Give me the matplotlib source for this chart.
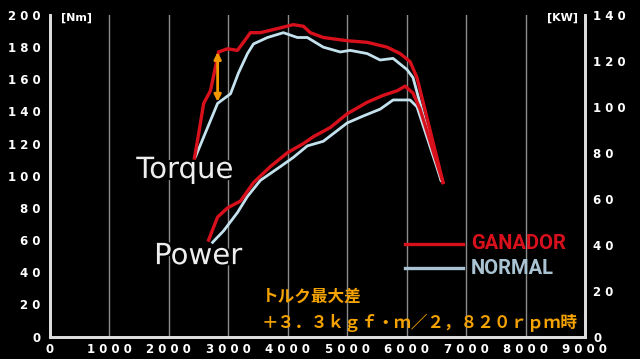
import matplotlib.pyplot as plt
import matplotlib.patheffects as pe

# Torque (Nm) vs rpm
tq_rpm_g = [2430, 2500, 2585, 2700, 2785, 2836, 2987, 3154, 3372, 3540, 3876, 4094,
            4262, 4379, 4597, 5000, 5336, 5671, 5889, 6057, 6174, 6611]
tq_g = [111, 126, 145, 153, 168, 177, 179, 178, 189, 189, 192, 194,
        193, 189, 186, 184, 183, 180, 176, 171, 161, 96]
tq_rpm_n = [2450, 2651, 2819, 3037, 3171, 3322, 3423, 3658, 3926, 4161, 4329, 4597,
            4883, 5050, 5336, 5554, 5772, 6007, 6107, 6580]
tq_n = [112, 130, 145, 151, 164, 176, 182, 186, 189, 186, 186, 180,
        177, 178, 176, 172, 173, 166, 161, 97]

# Power (kW) vs rpm
pw_rpm_g = [2668, 2819, 2987, 3205, 3423, 3708, 3993, 4262, 4430, 4715, 5000, 5336,
            5604, 5839, 5973, 6107, 6225, 6611]
pw_g = [42, 52, 56, 59, 67, 74, 80, 84, 87, 91, 97, 102,
        105, 107, 109, 106, 99, 67]
pw_rpm_n = [2735, 2920, 3154, 3322, 3540, 3876, 4094, 4329, 4597, 5000, 5268, 5554,
            5772, 6057, 6174, 6580]
pw_n = [41, 46, 54, 61, 68, 74, 78, 83, 85, 93, 96, 99,
        103, 103, 100, 68]

arrow_rpm = 2820
arrow_low, arrow_high = 146, 177

rpm_ticks = list(range(0, 9001, 1000))
nm_ticks = list(range(0, 201, 20))
kw_ticks = list(range(0, 141, 20))

RED = '#d8101c'
BLUE = '#c4e2ee'
AXC = '#dddddd'

def spaced(v):
    return ' '.join(str(v))

fig = plt.figure(figsize=(6.4, 3.59), dpi=100, facecolor='black')
ax = fig.add_axes([50 / 640, 1 - 336.5 / 359, 535 / 640, 321.5 / 359])
ax.set_facecolor('black')
ax2 = ax.twinx()

ax.set_xlim(0, 9000)
ax.set_ylim(0, 200)
ax2.set_ylim(0, 140)

ax.set_xticks(rpm_ticks)
ax.set_xticklabels([spaced(v) for v in rpm_ticks])
ax.set_yticks(nm_ticks)
ax.set_yticklabels([spaced(v) for v in nm_ticks])
ax2.set_yticks(kw_ticks)
ax2.set_yticklabels([spaced(v) for v in kw_ticks])

ax.grid(axis='x', color='#8c8c8c', lw=1)
ax.set_axisbelow(True)

for a in (ax, ax2):
    a.spines['top'].set_visible(False)
    for s in ('left', 'right', 'bottom'):
        a.spines[s].set_color(AXC)
        a.spines[s].set_linewidth(2)
    a.tick_params(length=0, colors='white', labelsize=8.5)
    for lab in a.get_xticklabels() + a.get_yticklabels():
        lab.set_fontweight('bold')
ax.tick_params(axis='y', pad=7)
ax.tick_params(axis='x', pad=5)
ax2.tick_params(axis='y', pad=6)

ax.plot(tq_rpm_n, tq_n, color=BLUE, lw=2)
ax.plot(tq_rpm_g, tq_g, color=RED, lw=2.4)
ax2.plot(pw_rpm_n, pw_n, color=BLUE, lw=2)
ax2.plot(pw_rpm_g, pw_g, color=RED, lw=2.4)

ax2.annotate('', xy=(arrow_rpm, arrow_high * 0.7), xytext=(arrow_rpm, arrow_low * 0.7),
             arrowprops=dict(arrowstyle='<|-|>', color='#f39800', lw=2,
                             mutation_scale=10, shrinkA=0, shrinkB=0))

outline = [pe.withStroke(linewidth=3, foreground='black')]
ax2.text(0.252, 0.518, 'Torque', transform=ax.transAxes, color='#eeeeee',
         fontsize=21, family='DejaVu Sans', ha='center', va='center', path_effects=outline)
ax2.text(0.277, 0.25, 'Power', transform=ax.transAxes, color='#eeeeee',
         fontsize=21, family='DejaVu Sans', ha='center', va='center', path_effects=outline)

ax2.text(0.02, 0.99, '[Nm]', transform=ax.transAxes, color='white', fontsize=8,
         fontweight='bold', ha='left', va='center')
ax2.text(0.987, 0.99, '[KW]', transform=ax.transAxes, color='white', fontsize=8,
         fontweight='bold', ha='right', va='center')

# legend
ax2.plot([0.664, 0.772], [0.288, 0.288], color=RED, lw=2.4, transform=ax.transAxes)
ax2.plot([0.664, 0.772], [0.213, 0.213], color='#a9c3d2', lw=2.4, transform=ax.transAxes)
ax2.text(0.787, 0.288, 'GANADOR', transform=ax.transAxes, color=RED, fontsize=14.5,
         fontweight='bold', family='Roboto', ha='left', va='center')
ax2.text(0.787, 0.213, 'NORMAL', transform=ax.transAxes, color='#a9c3d2', fontsize=14.5,
         fontweight='bold', family='Roboto', ha='left', va='center')

jp = ['Noto Sans CJK JP', 'DejaVu Sans']
ax2.text(0.396, 0.123, 'トルク最大差', transform=ax.transAxes, color='#f5a300',
         fontsize=12, fontweight='bold', family=jp, ha='left', va='center')
ax2.text(0.396, 0.042, '＋３．３ｋｇｆ・ｍ／２，８２０ｒｐｍ時', transform=ax.transAxes,
         color='#f5a300', fontsize=12, fontweight='bold', family=jp, ha='left', va='center')

fig.savefig('out.png', dpi=100, facecolor='black')
